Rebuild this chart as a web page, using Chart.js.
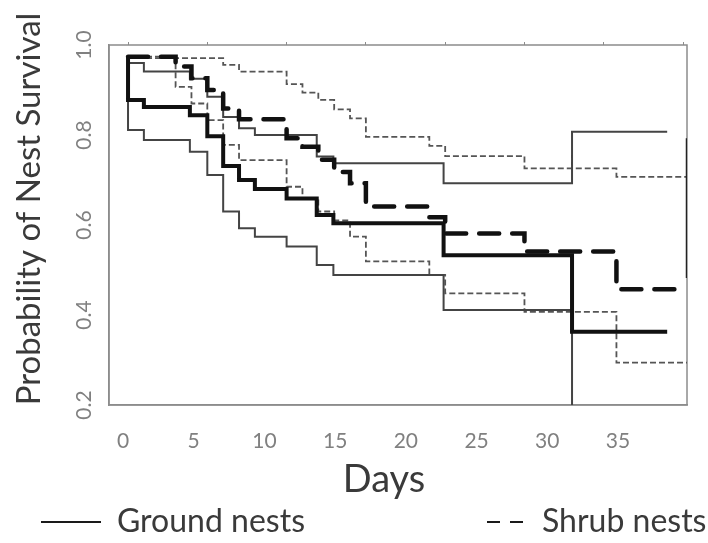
<!DOCTYPE html>
<html>
<head>
<meta charset="utf-8">
<script src="https://cdn.jsdelivr.net/npm/chart.js@4.4.1/dist/chart.umd.min.js"></script>
<style>
  html, body { margin: 0; padding: 0; background: #fff; }
  #wrap { width: 708px; height: 543px; }
</style>
</head>
<body>
<div id="wrap"><canvas id="survivalChart" width="708" height="543"></canvas></div>
<script>
// Kaplan-Meier nest survival (day of event, survival after it)
const groundDays = [0, 0, 1, 3.9, 5, 6, 7, 8, 10, 11.9, 12.95, 19.9, 28, 34];
const groundSurv = [0.974, 0.878, 0.862, 0.844, 0.797, 0.731, 0.70, 0.68, 0.659, 0.622, 0.604, 0.533, 0.363, 0.363];

const groundUpperDays = [0, 1, 3.9, 5, 6, 7, 8, 11.9, 12.95, 19.9, 28, 34];
const groundUpper = [0.96, 0.941, 0.925, 0.885, 0.84, 0.815, 0.80, 0.752, 0.737, 0.693, 0.807, 0.807];

const groundLowerDays = [0, 0, 1, 3.9, 5, 6, 7, 8, 10, 11.9, 12.95, 19.9, 28];
const groundLower = [0.878, 0.811, 0.789, 0.763, 0.711, 0.630, 0.593, 0.574, 0.552, 0.511, 0.489, 0.411, 0.2];

const shrubDays = [0, 3, 4, 5, 6, 7, 10, 11, 12, 13, 14, 15, 19, 20, 25, 30.8, 35.25];
const shrubSurv = [0.974, 0.952, 0.926, 0.90, 0.859, 0.835, 0.793, 0.774, 0.745, 0.718, 0.693, 0.641, 0.617, 0.581, 0.541, 0.457, 0.457];

const shrubUpperDays = [0, 6, 7, 10, 11, 12, 13, 14, 15, 19, 20, 25, 30.8, 35.25];
const shrubUpper = [0.971, 0.956, 0.941, 0.913, 0.894, 0.878, 0.857, 0.837, 0.796, 0.776, 0.753, 0.726, 0.707, 0.707];

const shrubLowerDays = [0, 3, 4, 5, 6, 7, 10, 11, 12, 13, 14, 15, 19, 20, 25, 30.8, 35.25];
const shrubLower = [0.974, 0.907, 0.87, 0.833, 0.778, 0.744, 0.685, 0.66, 0.63, 0.61, 0.574, 0.519, 0.489, 0.448, 0.407, 0.294, 0.294];

// dark stroke along the right edge of the plot
const edgeDays = [35.25, 35.25];
const edgeVals = [0.793, 0.482];

const xTicks = [0, 5, 10, 15, 20, 25, 30, 35];
const yTicks = [0.2, 0.4, 0.6, 0.8, 1.0];

const FONT = "Lato, Calibri, 'Open Sans', sans-serif";

function toPoints(xs, ys) {
    return xs.map((x, i) => ({ x: x, y: ys[i] }));
}

const extras = {
    id: "extras",
    beforeDatasetsDraw(chart) {
        const { ctx, chartArea: a } = chart;
        ctx.save();
        ctx.strokeStyle = "#8c8c8c";
        ctx.lineWidth = 1.5;
        ctx.strokeRect(a.left, a.top, a.right - a.left, a.bottom - a.top);
        ctx.restore();
    },
    afterDraw(chart) {
        const { ctx } = chart;
        const yScale = chart.scales.y;
        ctx.save();
        // rotated y tick labels
        ctx.fillStyle = "#808080";
        ctx.font = "21px " + FONT;
        ctx.textAlign = "center";
        ctx.textBaseline = "middle";
        yTicks.forEach(v => {
            ctx.save();
            ctx.translate(84, yScale.getPixelForValue(v));
            ctx.rotate(-Math.PI / 2);
            ctx.fillText(v.toFixed(1), 0, 0);
            ctx.restore();
        });
        // axis titles
        ctx.fillStyle = "#3a3a3a";
        ctx.font = "33px " + FONT;
        ctx.save();
        ctx.translate(29, 209);
        ctx.rotate(-Math.PI / 2);
        ctx.fillText("Probability of Nest Survival", 0, 0);
        ctx.restore();
        ctx.font = "38px " + FONT;
        ctx.fillText("Days", 384, 480);

        // legend
        ctx.strokeStyle = "#1a1a1a";
        ctx.lineWidth = 2;
        ctx.beginPath();
        ctx.moveTo(41, 522);
        ctx.lineTo(101, 522);
        ctx.stroke();
        ctx.beginPath();
        ctx.moveTo(487, 522);
        ctx.lineTo(500, 522);
        ctx.moveTo(510, 522);
        ctx.lineTo(523, 522);
        ctx.stroke();
        ctx.font = "32px " + FONT;
        ctx.textAlign = "left";
        ctx.fillText("Ground nests", 117, 522);
        ctx.fillText("Shrub nests", 542, 522);
        ctx.restore();
    }
};

const ctx = document.getElementById("survivalChart").getContext("2d");
const survivalChart = new Chart(ctx, {
    type: "line",
    data: {
        datasets: [
            {
                label: "Ground nests",
                data: toPoints(groundDays, groundSurv),
                borderColor: "#111111",
                borderWidth: 4,
                order: 1,
            },
            {
                label: "Shrub nests",
                data: toPoints(shrubDays, shrubSurv),
                borderColor: "#111111",
                borderWidth: 4.5,
                borderDash: [20, 13],
                borderCapStyle: "round",
                order: 2,
            },
            {
                label: "Ground upper",
                data: toPoints(groundUpperDays, groundUpper),
                borderColor: "#444444",
                borderWidth: 2,
                order: 3,
            },
            {
                label: "Ground lower",
                data: toPoints(groundLowerDays, groundLower),
                borderColor: "#444444",
                borderWidth: 2,
                order: 4,
            },
            {
                label: "Shrub upper",
                data: toPoints(shrubUpperDays, shrubUpper),
                borderColor: "#555555",
                borderWidth: 1.8,
                borderDash: [6, 3],
                order: 5,
            },
            {
                label: "Shrub lower",
                data: toPoints(shrubLowerDays, shrubLower),
                borderColor: "#555555",
                borderWidth: 1.8,
                borderDash: [6, 3],
                order: 6,
            },
            {
                label: "edge",
                data: toPoints(edgeDays, edgeVals),
                borderColor: "#222222",
                borderWidth: 2.5,
                order: 0,
            },
        ],
    },
    options: {
        responsive: false,
        animation: false,
        events: [],
        layout: {
            padding: { top: 45, right: 21, left: 0, bottom: 0 }
        },
        elements: {
            point: { radius: 0 },
            line: { stepped: true, tension: 0, fill: false }
        },
        plugins: {
            legend: { display: false },
            tooltip: { enabled: false }
        },
        scales: {
            // data axis: small tick marks on the top border only
            x: {
                type: "linear",
                position: "top",
                min: -1.2,
                max: 35.25,
                afterBuildTicks: scale => {
                    scale.ticks = xTicks.map(v => ({ value: v }));
                },
                afterFit: scale => {
                    scale.height = 0;
                },
                grid: {
                    display: true,
                    drawOnChartArea: false,
                    drawTicks: true,
                    tickLength: 3,
                    color: "#8c8c8c"
                },
                border: { display: false },
                ticks: { display: false }
            },
            // label axis along the bottom (labels sit a little off the data ticks in the figure)
            xLabels: {
                type: "linear",
                position: "bottom",
                min: -0.99,
                max: 39.88,
                afterBuildTicks: scale => {
                    scale.ticks = xTicks.map(v => ({ value: v }));
                },
                afterFit: scale => {
                    scale.height = 138;
                },
                grid: { display: false },
                border: { color: "#8c8c8c", width: 1.5 },
                ticks: {
                    color: "#808080",
                    font: { family: FONT, size: 21 },
                    padding: 16,
                    maxRotation: 0,
                    autoSkip: false
                }
            },
            y: {
                type: "linear",
                min: 0.2,
                max: 1.0,
                afterBuildTicks: scale => {
                    scale.ticks = yTicks.map(v => ({ value: v }));
                },
                afterFit: scale => {
                    scale.width = 109;
                },
                grid: { display: false },
                border: { color: "#8c8c8c", width: 1.5 },
                ticks: { display: false }
            }
        }
    },
    plugins: [extras]
});
</script>
</body>
</html>
